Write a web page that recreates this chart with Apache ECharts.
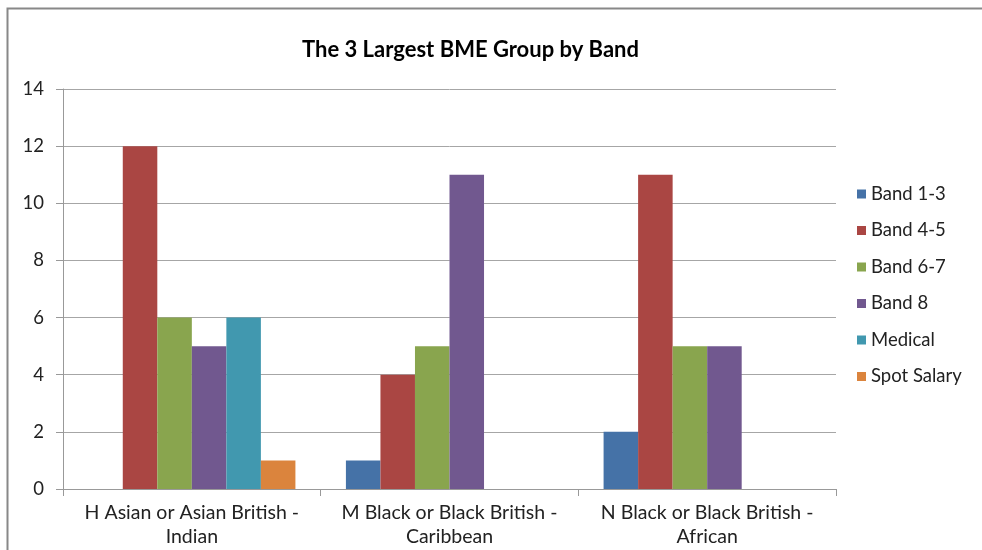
<!DOCTYPE html>
<html>
<head>
<meta charset="utf-8">
<script src="https://cdn.jsdelivr.net/npm/echarts@6/dist/echarts.min.js"></script>
<style>
  html, body { margin: 0; padding: 0; background: #fff; }
  #chart { width: 982px; height: 550px; }
</style>
</head>
<body>
<div id="chart"></div>
<script>
// Staff counts in the three largest BME groups, split by pay band
const categories = [
  'H Asian or Asian British -\nIndian',
  'M Black or Black British -\nCaribbean',
  'N Black or Black British -\nAfrican'
];
const band13 = [0, 1, 2];
const band45 = [12, 4, 11];
const band67 = [6, 5, 5];
const band8 = [5, 11, 5];
const medical = [6, 0, 0];
const spotSalary = [1, 0, 0];

const seriesNames = ['Band 1-3', 'Band 4-5', 'Band 6-7', 'Band 8', 'Medical', 'Spot Salary'];
const seriesValues = [band13, band45, band67, band8, medical, spotSalary];
const colors = ['#4572A7', '#AA4643', '#89A54E', '#71588F', '#4198AF', '#DB843D'];

const font = 'Lato, "Open Sans", sans-serif';
const chart = echarts.init(document.getElementById('chart'), null, { renderer: 'canvas' });

chart.setOption({
  animation: false,
  backgroundColor: '#ffffff',
  color: colors,
  graphic: [{
    type: 'rect',
    shape: { x: 7.5, y: 8.5, width: 1100, height: 700 },
    style: { fill: 'none', stroke: '#888888', lineWidth: 2 },
    silent: true
  }],
  title: {
    text: 'The 3 Largest BME Group by Band',
    left: 297,
    top: 34,
    textStyle: { fontFamily: font, fontSize: 22, fontWeight: 'bold', color: '#000' }
  },
  legend: {
    orient: 'vertical',
    left: 852,
    top: 178,
    itemWidth: 9,
    itemHeight: 9,
    itemGap: 14.5,
    icon: 'rect',
    textStyle: { fontFamily: font, fontSize: 18.5, color: '#222', lineHeight: 22 },
    data: seriesNames
  },
  grid: { left: 63, right: 146, top: 89, bottom: 61, containLabel: false },
  xAxis: {
    type: 'category',
    data: categories,
    axisLine: { lineStyle: { color: '#999', width: 1 } },
    axisTick: { show: true, length: 7, lineStyle: { color: '#999' } },
    axisLabel: {
      interval: 0,
      hideOverlap: false,
      fontFamily: font,
      fontSize: 19.5,
      color: '#222',
      lineHeight: 24,
      margin: 12
    },
    splitLine: { show: false }
  },
  yAxis: {
    type: 'value',
    min: 0,
    max: 14,
    interval: 2,
    axisLine: { show: true, lineStyle: { color: '#999', width: 1 } },
    axisTick: { show: true, length: 7, lineStyle: { color: '#999' } },
    axisLabel: { fontFamily: font, fontSize: 18.5, color: '#222', margin: 19 },
    splitLine: { lineStyle: { color: '#a6a6a6', width: 1 } }
  },
  series: seriesNames.map((name, i) => ({
    name: name,
    type: 'bar',
    data: seriesValues[i],
    barGap: '0%',
    barCategoryGap: '19.6%',
    itemStyle: { color: colors[i] }
  }))
});
</script>
</body>
</html>
